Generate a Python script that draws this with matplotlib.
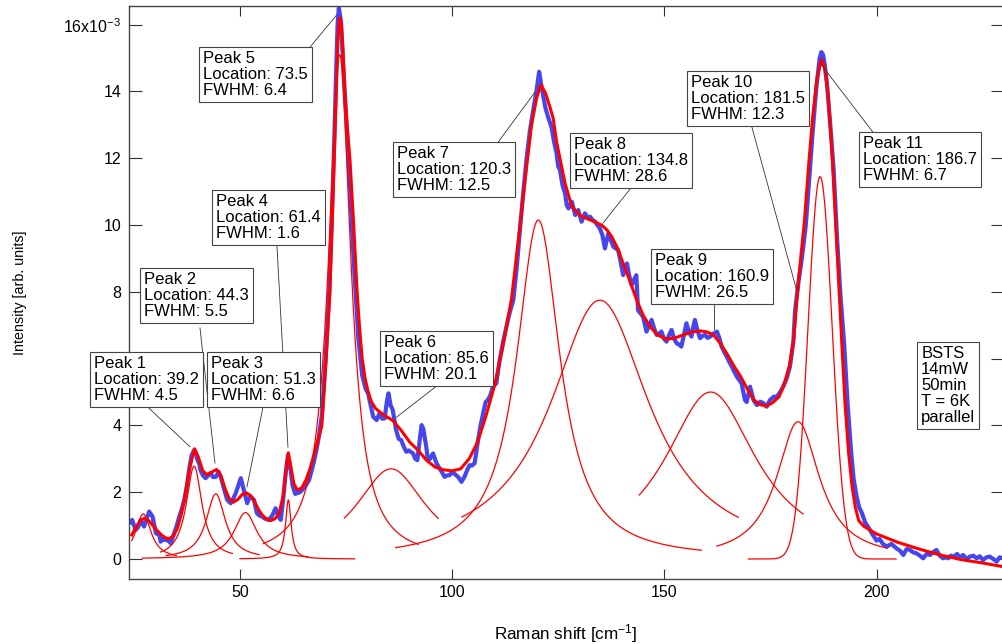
import numpy as np
import matplotlib
matplotlib.use("Agg")
import matplotlib.pyplot as plt

plt.rcParams['font.family'] = ['Liberation Sans', 'DejaVu Sans']
plt.rcParams['mathtext.fontset'] = 'custom'
plt.rcParams['mathtext.rm'] = 'Liberation Sans'
plt.rcParams['mathtext.it'] = 'Liberation Sans:italic'
plt.rcParams['mathtext.bf'] = 'Liberation Sans:bold'

# measured spectrum (intensity in 1e-3 arb. units)
shift = [24.3, 24.6, 25.4, 26.0, 26.6, 27.4, 28.0, 28.6, 29.4, 30.2, 31.0, 31.3, 32.0, 32.5, 33.1,
         33.7, 34.5, 35.1, 35.7, 36.3, 36.9, 37.5, 38.0, 38.6, 39.2, 39.6, 40.0, 40.4, 40.7, 41.3,
         41.9, 42.5, 43.1, 43.7, 44.3, 45.0, 45.6, 46.2, 47.0, 47.8, 48.4, 49.0, 49.6, 50.2, 50.9,
         51.7, 52.1, 52.5, 53.3, 54.0, 54.6, 55.2, 56.0, 56.8, 57.6, 58.4, 59.0, 59.6, 60.2, 60.8,
         61.3, 61.8, 62.4, 63.0, 63.5, 64.1, 64.7, 65.5, 66.3, 67.0, 67.5, 68.0, 68.5, 69.3, 70.2,
         71.0, 71.6, 72.1, 72.6, 73.0, 73.3, 73.8, 74.4, 75.3, 76.2, 77.0, 77.9, 78.8, 79.6, 80.2,
         80.8, 81.4, 82.2, 82.9, 83.5, 84.1, 84.6, 85.0, 85.5, 86.0, 86.8, 87.4, 88.0, 88.6, 89.2,
         89.8, 90.8, 91.3, 91.8, 92.4, 92.8, 93.2, 93.9, 94.3, 94.8, 95.5, 96.3, 97.0, 97.6, 98.2,
         98.8, 99.4, 100.0, 100.4, 101.0, 101.4, 102.2, 102.9, 103.5, 104.1, 104.7, 105.3, 106.1, 106.7, 107.3,
         107.9, 108.4, 109.0, 109.6, 110.4, 111.2, 112.0, 112.8, 113.6, 114.4, 115.2, 115.9, 116.7, 117.5, 118.3,
         119.1, 119.9, 120.5, 121.0, 121.5, 122.0, 122.6, 123.4, 124.0, 124.6, 125.0, 125.4, 126.0, 126.6, 127.0,
         127.4, 128.2, 129.0, 129.7, 130.5, 131.3, 132.0, 132.5, 133.1, 133.7, 134.2, 134.8, 135.4, 136.0, 136.8,
         137.4, 138.0, 139.1, 139.7, 140.3, 141.2, 141.7, 142.3, 143.0, 143.4, 143.8, 144.4, 145.0, 145.8, 146.4,
         147.0, 147.6, 148.2, 148.8, 149.3, 149.9, 150.5, 151.1, 151.7, 152.3, 152.9, 153.5, 154.0, 154.6, 155.2,
         155.8, 156.4, 156.8, 157.2, 157.8, 158.4, 159.0, 159.6, 160.2, 160.8, 161.6, 162.4, 163.0, 163.5, 164.1,
         164.7, 165.3, 165.9, 166.5, 167.1, 167.7, 168.2, 168.6, 169.0, 169.4, 170.2, 171.0, 171.8, 172.6, 173.4,
         174.1, 174.9, 175.8, 176.5, 177.3, 178.0, 178.8, 179.6, 180.4, 180.8, 181.6, 182.4, 183.3, 184.1, 184.9,
         185.8, 186.6, 187.0, 187.4, 187.8, 188.3, 189.1, 189.9, 190.7, 191.5, 192.4, 193.2, 194.0, 194.6, 195.3,
         195.9, 196.5, 197.3, 198.2, 199.0, 200.0, 200.7, 201.5, 202.4, 203.5, 204.7, 205.5, 206.3, 207.1, 207.9,
         208.6, 209.4, 210.2, 211.0, 211.8, 212.6, 213.3, 214.1, 214.9, 215.7, 216.3, 216.9, 217.5, 218.1, 219.0,
         219.6, 220.4, 221.2, 222.0, 222.8, 223.6, 224.3, 225.1, 225.9, 226.7, 227.5, 228.3, 229.0, 229.8]
intensity = [1.10, 1.17, 0.87, 0.95, 1.17, 0.97, 1.20, 1.42, 1.27, 0.77, 0.72, 0.52, 0.60, 0.57, 0.55,
             0.47, 0.77, 1.00, 1.27, 1.50, 1.77, 2.20, 2.66, 3.10, 3.26, 3.15, 2.96, 2.85, 2.66, 2.50,
             2.42, 2.50, 2.57, 2.45, 2.46, 2.61, 2.40, 2.12, 1.77, 1.67, 1.80, 1.97, 2.20, 2.42, 2.07,
             1.67, 1.80, 1.87, 1.77, 1.37, 1.30, 1.27, 1.20, 1.17, 1.30, 1.52, 1.30, 1.17, 1.80, 2.60,
             3.10, 2.80, 2.20, 1.95, 1.97, 2.00, 2.07, 2.20, 2.37, 2.70, 2.96, 3.25, 3.60, 4.30, 6.00,
             7.90, 10.0, 12.0, 14.3, 16.0, 16.5, 16.1, 14.6, 12.6, 10.4, 8.50, 6.60, 5.50, 5.10, 4.96,
             4.60, 4.26, 4.16, 4.36, 4.20, 4.21, 4.70, 4.96, 4.60, 4.46, 3.86, 3.60, 3.56, 3.36, 3.21,
             3.25, 3.16, 3.00, 2.96, 3.61, 4.01, 3.90, 3.36, 2.96, 3.00, 3.16, 2.87, 2.72, 2.60, 2.46,
             2.50, 2.51, 2.60, 2.57, 2.50, 2.46, 2.31, 2.46, 2.65, 2.81, 2.80, 2.87, 3.56, 4.00, 4.36,
             4.70, 4.76, 4.90, 5.16, 5.26, 5.96, 6.50, 6.96, 7.40, 7.75, 8.70, 9.75, 10.9, 11.95, 12.8,
             13.44, 14.04, 14.59, 14.2, 13.84, 13.5, 13.24, 12.94, 12.5, 12.15, 11.75, 11.65, 11.2, 10.95, 10.6,
             10.5, 10.7, 10.3, 10.45, 10.1, 10.35, 10.2, 10.25, 10.15, 10.1, 10.0, 9.90, 9.70, 9.30, 9.75,
             9.55, 9.35, 9.25, 8.90, 8.50, 8.85, 8.50, 8.20, 8.40, 8.50, 7.45, 7.35, 7.25, 6.81, 7.00,
             7.16, 6.90, 6.71, 6.75, 6.81, 6.60, 6.51, 6.70, 6.86, 6.60, 6.46, 6.42, 6.36, 6.70, 7.06,
             6.80, 6.66, 6.95, 7.16, 6.85, 6.61, 6.68, 6.71, 6.62, 6.66, 6.75, 6.81, 6.60, 6.36, 6.20,
             6.06, 5.90, 5.76, 5.60, 5.46, 5.35, 5.26, 5.00, 4.76, 4.70, 5.16, 4.76, 4.61, 4.71, 4.66,
             4.56, 4.76, 4.86, 4.86, 5.00, 5.16, 5.40, 5.76, 6.50, 7.43, 8.28, 9.00, 9.95, 11.3, 12.7,
             14.1, 15.0, 15.18, 15.1, 14.8, 14.26, 13.0, 11.65, 9.60, 7.90, 6.38, 4.60, 3.23, 2.40, 1.87,
             1.55, 1.39, 1.10, 0.92, 0.75, 0.55, 0.60, 0.45, 0.37, 0.45, 0.32, 0.25, 0.12, 0.30, 0.27,
             0.20, 0.17, 0.10, 0.02, 0.15, 0.12, 0.20, 0.27, 0.10, 0.02, 0.05, 0.02, 0.10, 0.07, 0.15,
             0.05, 0.12, 0.00, 0.07, 0.10, 0.02, 0.08, -0.03, 0.05, 0.07, 0.00, -0.08, 0.05, 0.02]

# total fit
fit_shift = [24.5, 25.5, 26.5, 27.5, 28.5, 29.5, 30.5, 31.5, 32.5, 33.3, 34.2, 35.2, 36.2, 37.2, 38.2,
             39.3, 40.2, 41.2, 42.2, 43.3, 44.5, 45.5, 46.5, 47.5, 48.4, 49.5, 50.5, 51.5, 52.5, 53.5,
             54.5, 55.5, 56.5, 57.2, 58.2, 59.2, 60.2, 60.8, 61.4, 62.0, 62.7, 63.5, 64.5, 65.5, 66.5,
             67.5, 68.5, 69.3, 70.3, 71.2, 71.7, 72.2, 72.7, 73.1, 73.5, 73.9, 74.3, 74.7, 75.3, 75.9,
             76.8, 77.6, 78.2, 78.8, 79.5, 80.2, 81.0, 82.0, 84.0, 86.0, 88.0, 90.0, 92.0, 94.0, 96.0,
             98.0, 100.0, 102.0, 104.0, 106.0, 108.0, 110.0, 112.0, 114.0, 116.0, 117.5, 118.7, 119.9, 120.9, 122.0,
             123.0, 123.8, 124.6, 125.4, 126.6, 128.2, 130.0, 131.7, 133.5, 135.2, 136.5, 137.6, 139.0, 140.0, 141.8,
             143.5, 145.0, 146.6, 148.5, 150.6, 152.5, 154.5, 156.5, 158.5, 160.0, 161.6, 163.2, 164.7, 166.3, 168.0,
             169.5, 171.1, 172.6, 174.1, 175.5, 177.0, 178.3, 179.5, 180.5, 181.3, 182.2, 183.0, 184.0, 185.0, 186.0,
             187.0, 187.8, 188.6, 189.4, 190.2, 191.0, 191.8, 192.6, 193.4, 194.2, 195.0, 195.8, 197.0, 200.0, 205.0,
             210.0, 215.0, 220.0, 225.0, 229.8]
fit_intensity = [0.72, 0.95, 1.15, 1.22, 1.15, 1.00, 0.85, 0.72, 0.63, 0.61, 0.68, 0.90, 1.35, 2.00, 2.75,
                 3.30, 3.05, 2.65, 2.52, 2.60, 2.68, 2.50, 2.10, 1.80, 1.70, 1.78, 1.93, 1.98, 1.90, 1.70,
                 1.45, 1.28, 1.18, 1.15, 1.20, 1.35, 1.90, 2.60, 3.18, 2.75, 2.25, 2.07, 2.12, 2.35, 2.70,
                 3.15, 3.60, 4.00, 6.00, 8.00, 10.0, 12.0, 14.0, 15.6, 16.2, 16.0, 15.2, 14.0, 12.9, 12.0,
                 10.0, 8.00, 6.90, 6.00, 5.40, 5.00, 4.70, 4.50, 4.30, 4.15, 3.85, 3.50, 3.25, 2.95, 2.75,
                 2.67, 2.64, 2.70, 3.00, 3.50, 4.30, 5.20, 6.40, 7.80, 10.0, 11.7, 13.0, 13.8, 14.2, 13.95,
                 13.55, 13.2, 12.5, 12.0, 11.25, 10.55, 10.3, 10.2, 10.1, 10.0, 9.85, 9.65, 9.30, 8.95, 8.35,
                 7.75, 7.30, 6.96, 6.70, 6.58, 6.62, 6.71, 6.80, 6.83, 6.80, 6.71, 6.45, 6.16, 5.80, 5.46,
                 5.10, 4.76, 4.62, 4.58, 4.68, 4.85, 5.25, 5.80, 6.60, 7.90, 9.10, 10.1, 11.8, 13.3, 14.4,
                 14.95, 14.7, 13.9, 12.4, 10.5, 8.50, 6.50, 4.60, 3.20, 2.20, 1.55, 1.15, 0.98, 0.75, 0.50,
                 0.30, 0.12, -0.02, -0.12, -0.23]

# fitted peaks: location, FWHM, amplitude (1e-3), drawn range, line shape
peak_loc = [27.2, 39.2, 44.3, 51.3, 61.4, 73.5, 85.6, 120.3, 134.8, 160.9, 181.5, 186.7]
peak_fwhm = [4.5, 4.5, 5.5, 6.6, 1.6, 6.4, 20.1, 12.5, 28.6, 26.5, 12.3, 6.7]
peak_amp = [1.35, 2.78, 1.95, 1.39, 1.77, 15.1, 2.70, 10.15, 7.75, 5.0, 4.11, 11.45]
peak_from = [24.5, 31.3, 32.6, 27.0, 50.0, 55.5, 74.6, 86.7, 102.3, 144.1, 162.4, 169.8]
peak_to = [35.0, 48.2, 54.5, 66.0, 77.0, 92.0, 96.7, 158.7, 167.4, 182.7, 202.5, 204.6]
peak_shape = ['L', 'L', 'L', 'L', 'L', 'L', 'L', 'L', 'L', 'L', 'L', 'G']

# label boxes: peak number, box top-left (data), leader start, leader end
label_peak = [1, 2, 3, 4, 5, 6, 7, 8, 9, 10, 11]
label_box = [(14.66, 6.20), (26.44, 8.71), (42.23, 6.20), (43.41, 11.05), (40.34, 15.33), (83.0, 6.83),
             (86.06, 12.49), (127.76, 12.75), (146.85, 9.28), (155.33, 14.61), (195.86, 12.78)]
leader_from = [(28.02, 4.58), (40.58, 6.92), (55.42, 4.55), (58.72, 9.37), (66.5, 15.33), (96.35, 5.18),
               (110.87, 12.49), (142.13, 11.11), (161.67, 7.63), (170.57, 12.96), (199.16, 12.78)]
leader_to = [(38.22, 3.36), (44.11, 2.87), (51.65, 2.16), (61.31, 3.35), (72.79, 16.29), (86.93, 4.25),
             (119.52, 13.98), (135.54, 10.06), (161.67, 6.89), (181.18, 8.05), (187.07, 14.79)]

info_text = "BSTS\n14mW\n50min\nT = 6K\nparallel"

fig = plt.figure(figsize=(10.03, 6.44), dpi=100)
ax = fig.add_axes([0.1286, 0.1009, 0.8714, 0.8898])

ax.plot(shift, intensity, color='#4646ee', lw=3.0, solid_joinstyle='round', zorder=2)

for c, w, a, lo, hi, shp in zip(peak_loc, peak_fwhm, peak_amp, peak_from, peak_to, peak_shape):
    xx = np.linspace(lo, hi, 400)
    if shp == 'G':
        yy = a * np.exp(-4 * np.log(2) * ((xx - c) / w) ** 2)
    else:
        yy = a / (1 + ((xx - c) / (w / 2)) ** 2)
    ax.plot(xx, yy, color='red', lw=0.9, zorder=3)

ax.plot(fit_shift, fit_intensity, color='red', lw=2.2, solid_joinstyle='round', zorder=4)

box_style = dict(boxstyle='square,pad=0.25', fc='white', ec='#444444', lw=0.8)
for n, box, p0, p1 in zip(label_peak, label_box, leader_from, leader_to):
    i = n  # index 0 of peak_loc is the unlabeled edge peak
    txt = "Peak %d\nLocation: %.1f\nFWHM: %.1f" % (n, peak_loc[i], peak_fwhm[i])
    ax.plot([p0[0], p1[0]], [p0[1], p1[1]], color='#333333', lw=0.6, clip_on=False, zorder=5)
    ax.annotate(txt, xy=box, xytext=(3, -3), textcoords='offset points', ha='left', va='top',
                fontsize=12, linespacing=1.08, annotation_clip=False, zorder=6, bbox=box_style)

ax.annotate(info_text, xy=(209.53, 6.50), xytext=(3, -3), textcoords='offset points', ha='left',
            va='top', fontsize=12, linespacing=1.08, annotation_clip=False, zorder=6, bbox=box_style)

ax.set_xlim(23.85, 229.8)
ax.set_ylim(-0.6, 16.56)
ax.set_xticks([50, 100, 150, 200])
yt = [0, 2, 4, 6, 8, 10, 12, 14, 16]
ylabels = [str(v) for v in yt[:-1]] + ['16x10$^{-3}$']
ylabels[3] = ''  # the "6" sits under the Peak 1 box in the original
ax.set_yticks(yt)
ax.set_yticklabels(ylabels)

ax.spines['right'].set_visible(False)
for s in ['left', 'top', 'bottom']:
    ax.spines[s].set_color('#444444')
    ax.spines[s].set_linewidth(1.0)
ax.tick_params(axis='both', direction='in', colors='#333333', labelcolor='black', labelsize=11.5, width=0.8)
ax.tick_params(axis='x', length=7.5, top=True, pad=4.5)
ax.tick_params(axis='y', length=9, right=True, pad=5.5)

ax.set_xlabel('Raman shift [cm$^{-1}$]', fontsize=12.3)
ax.set_ylabel('Intensity [arb. units]', fontsize=10.3)
ax.xaxis.set_label_coords(0.5, -0.0756)
ax.yaxis.set_label_coords(-0.117, 0.5)

fig.savefig('out.png', dpi=100)
